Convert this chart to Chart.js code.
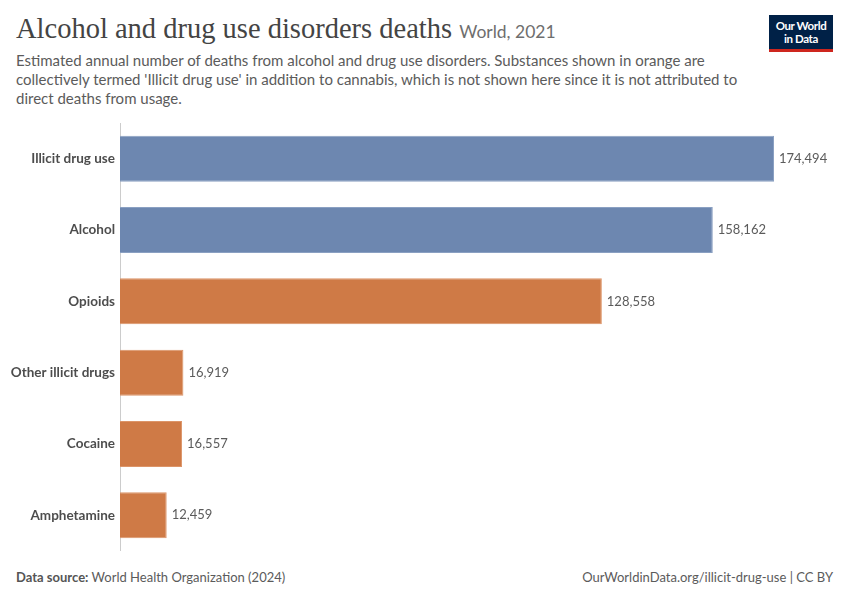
<!DOCTYPE html>
<html>
<head>
  <meta charset="UTF-8">
  <title>Alcohol and drug use disorders deaths</title>
  <script src="https://cdn.jsdelivr.net/npm/chart.js"></script>
  <style>
    body {
      margin: 0;
      padding: 0;
      width: 850px;
      height: 600px;
      background: white;
      font-family: Lato, "Noto Sans", sans-serif;
      position: relative;
      overflow: hidden;
    }
    #titulo {
      position: absolute;
      left: 16px;
      top: 13px;
      font-family: "Liberation Serif", "DejaVu Serif", serif;
      font-size: 28.5px;
      color: #444;
      white-space: nowrap;
    }
    #titulo span {
      font-family: Lato, sans-serif;
      font-size: 17.5px;
      color: #6e6e6e;
    }
    #subtitulo {
      position: absolute;
      left: 16px;
      top: 51px;
      width: 735px;
      font-size: 15px;
      line-height: 19px;
      color: #5b5b5b;
    }
    #logo {
      position: absolute;
      left: 769px;
      top: 15px;
      width: 64px;
      height: 30px;
      padding-top: 4px;
      background: #002147;
      border-bottom: 3px solid #ce261e;
      color: white;
      font-size: 11.5px;
      font-weight: bold;
      line-height: 13px;
      text-align: center;
      letter-spacing: -0.4px;
    }
    #caja {
      position: absolute;
      left: 0;
      top: 110px;
      width: 850px;
      height: 454px;
    }
    #fuente {
      position: absolute;
      left: 16px;
      top: 569px;
      font-size: 13px;
      color: #5b5b5b;
    }
    #fuente b { font-weight: bold; color: #555; }
    #licencia {
      position: absolute;
      right: 17px;
      top: 569px;
      font-size: 13px;
      color: #5b5b5b;
    }
  </style>
</head>
<body>
  <div id="titulo">Alcohol and drug use disorders deaths <span>World, 2021</span></div>
  <div id="subtitulo">Estimated annual number of deaths from alcohol and drug use disorders. Substances shown in orange are collectively termed 'Illicit drug use' in addition to cannabis, which is not shown here since it is not attributed to direct deaths from usage.</div>
  <div id="logo">Our World<br>in Data</div>
  <div id="caja"><canvas id="miGrafica"></canvas></div>
  <div id="fuente"><b>Data source:</b> World Health Organization (2024)</div>
  <div id="licencia">OurWorldinData.org/illicit-drug-use | CC BY</div>

  <script type="text/javascript">
    const categorias = ['Illicit drug use', 'Alcohol', 'Opioids', 'Other illicit drugs', 'Cocaine', 'Amphetamine'];
    const muertes = [174494, 158162, 128558, 16919, 16557, 12459];
    const grupos = ['total', 'total', 'ilicita', 'ilicita', 'ilicita', 'ilicita'];

    const colores = { total: '#6d87b0', ilicita: '#cf7a46' };
    const bordes = { total: '#8aa0c2', ilicita: '#dc9468' };

    // etiquetas de valor al final de cada barra
    const etiquetasValor = {
      id: 'etiquetasValor',
      afterDatasetsDraw(chart) {
        const ctx = chart.ctx;
        const meta = chart.getDatasetMeta(0);
        ctx.save();
        ctx.font = '13px Lato, sans-serif';
        ctx.fillStyle = '#5b5b5b';
        ctx.textBaseline = 'middle';
        meta.data.forEach((barra, i) => {
          ctx.fillText(muertes[i].toLocaleString('en-US'), barra.x + 5, barra.y);
        });
        ctx.restore();
      }
    };

    const ctx = document.getElementById('miGrafica').getContext('2d');
    new Chart(ctx, {
      type: 'bar',
      data: {
        labels: categorias,
        datasets: [{
          data: muertes,
          backgroundColor: grupos.map(g => colores[g]),
          borderColor: grupos.map(g => bordes[g]),
          borderWidth: 1,
          barPercentage: 0.645,
          categoryPercentage: 1
        }]
      },
      options: {
        indexAxis: 'y',
        responsive: true,
        maintainAspectRatio: false,
        animation: false,
        layout: { padding: { left: 0, right: 76, top: 0, bottom: 0 } },
        plugins: {
          legend: { display: false },
          tooltip: { enabled: false }
        },
        scales: {
          x: {
            display: false,
            min: 0,
            max: 174494
          },
          y: {
            grid: { display: false, drawTicks: false },
            border: { display: true, color: '#cccccc', width: 1 },
            afterFit(escala) { escala.width = 120; },
            ticks: {
              color: '#4d4d4d',
              padding: 5,
              font: { family: 'Lato, sans-serif', size: 13.5, weight: 'bold' }
            }
          }
        }
      },
      plugins: [etiquetasValor]
    });
  </script>
</body>
</html>
